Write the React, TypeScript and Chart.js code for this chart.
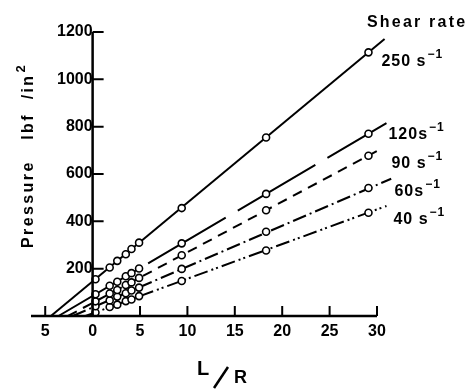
import React, { useEffect, useRef } from 'react';
import { Chart, registerables } from 'chart.js';
Chart.register(...registerables);

// ---- data ----
const shearRates = ['250', '120', '90', '60', '40'];
const lOverR = [0.3, 1.8, 2.6, 3.5, 4.1, 4.9, 9.4, 18.3, 29.1];
const p250 = [155, 205, 233, 261, 283, 310, 456, 754, 1114];
const p120 = [92, 128, 145, 168, 181, 201, 307, 516, 770];
const p90 = [62, 95, 110, 131, 142, 161, 257, 447, 677];
const p60 = [41, 66, 82, 96, 108, 120, 199, 356, 541];
const p40 = [15, 38, 48, 63, 70, 84, 148, 277, 436];
const pressures = [p250, p120, p90, p60, p40];
// fitted straight lines (Bagley extrapolation), start/end L/R and pressure
const fitStartX = [-4.4, -3.6, -2.6, -2.1, -0.75];
const fitEndX = [30.8, 31.0, 30.2, 31.5, 31.0];
const fitEndY = [1170, 815, 701, 580, 465];
const xTicks = [-5, 0, 5, 10, 15, 20, 25, 30];
const yTicks = [200, 400, 600, 800, 1000, 1200];

const dashes: number[][] = [[], [90, 14], [10, 7], [14, 4, 2, 4], [14, 4, 2, 3, 2, 4]];
const labelOffsets = [[13, 14], [20, 5], [23, 12], [26, 8], [25, 11]];
const labelSep = [' ', '', ' ', '', ' '];

const FONT = '"Liberation Sans", Arial, sans-serif';

const decor = {
  id: 'decor',
  afterDraw(chart: any) {
    const { ctx, scales } = chart;
    const x = scales.x, y = scales.y;
    const x0 = x.getPixelForValue(0);
    const y0 = y.getPixelForValue(0);
    ctx.save();
    ctx.strokeStyle = '#000';
    ctx.fillStyle = '#000';
    ctx.lineCap = 'butt';
    // axes
    ctx.lineWidth = 2.5;
    ctx.beginPath();
    ctx.moveTo(x.left, y0);
    ctx.lineTo(x.right, y0);
    ctx.moveTo(x0, y.getPixelForValue(1200));
    ctx.lineTo(x0, y0);
    ctx.stroke();
    // tick marks
    ctx.lineWidth = 2;
    ctx.beginPath();
    yTicks.forEach(v => {
      const py = y.getPixelForValue(v);
      ctx.moveTo(x0, py);
      ctx.lineTo(x0 + 11, py);
    });
    xTicks.forEach(v => {
      if (v === 0) return;
      const px = x.getPixelForValue(v);
      ctx.moveTo(px, y0);
      ctx.lineTo(px, y0 - 10);
    });
    ctx.stroke();

    // series labels
    (ctx as any).letterSpacing = '1px';
    ctx.textBaseline = 'alphabetic';
    ctx.textAlign = 'left';
    shearRates.forEach((r, i) => {
      const n = lOverR.length - 1;
      const px = x.getPixelForValue(lOverR[n]) + labelOffsets[i][0];
      const py = y.getPixelForValue(pressures[i][n]) + labelOffsets[i][1];
      ctx.font = `bold 16px ${FONT}`;
      const main = r + labelSep[i] + 's';
      ctx.fillText(main, px, py);
      const w = ctx.measureText(main).width;
      ctx.font = `bold 12px ${FONT}`;
      ctx.fillText('\u22121', px + w + 1, py - 8);
    });

    // header
    (ctx as any).letterSpacing = '2.2px';
    ctx.font = `bold 16px ${FONT}`;
    ctx.fillText('Shear rate', 367, 27);

    // y title
    ctx.save();
    ctx.translate(33, 248);
    ctx.rotate(-Math.PI / 2);
    (ctx as any).letterSpacing = '2.4px';
    ctx.font = `bold 16px ${FONT}`;
    const yt = 'Pressure   lbf  /in';
    ctx.fillText(yt, 0, 0);
    const yw = ctx.measureText(yt).width;
    ctx.font = `bold 13px ${FONT}`;
    ctx.fillText('2', yw + 1, -8);
    ctx.restore();

    // x title  L/R
    (ctx as any).letterSpacing = '0px';
    ctx.font = `bold 20px ${FONT}`;
    ctx.fillText('L', 197, 375);
    ctx.font = `bold 18px ${FONT}`;
    ctx.fillText('R', 234, 383);
    ctx.lineWidth = 2.5;
    ctx.beginPath();
    ctx.moveTo(214, 388);
    ctx.lineTo(228, 367);
    ctx.stroke();
    ctx.restore();
  },
};

export default function App() {
  const ref = useRef<HTMLCanvasElement | null>(null);
  useEffect(() => {
    document.body.style.margin = '0';
    const canvas = ref.current;
    if (!canvas) return;
    const pointSets = pressures.map((ps) => ({
      data: lOverR.map((lx, j) => ({ x: lx, y: ps[j] })),
      showLine: false,
      pointRadius: 3.5,
      pointBorderWidth: 1.6,
      pointBorderColor: '#000',
      pointBackgroundColor: '#fff',
      clip: false as any,
    }));
    const lineSets = pressures.map((_, i) => ({
      data: [
        { x: fitStartX[i], y: 0 },
        { x: fitEndX[i], y: fitEndY[i] },
      ],
      showLine: true,
      borderColor: '#000',
      borderWidth: 2,
      borderDash: dashes[i],
      pointRadius: 0,
      clip: false as any,
    }));
    const chart = new Chart(canvas, {
      type: 'scatter',
      data: { datasets: [...pointSets, ...lineSets] as any },
      options: {
        animation: false,
        responsive: false,
        devicePixelRatio: 1,
        layout: { padding: { left: 31, right: 96, top: 32, bottom: 0 } },
        plugins: { legend: { display: false }, tooltip: { enabled: false } },
        scales: {
          x: {
            type: 'linear',
            min: -6.5,
            max: 30,
            position: 'bottom',
            grid: { display: false, drawTicks: false },
            border: { display: false },
            afterBuildTicks: (s: any) => { s.ticks = xTicks.map(v => ({ value: v })); },
            afterFit: (s: any) => { s.height = 73; },
            ticks: {
              padding: 6,
              color: '#000',
              font: { family: FONT, size: 16, weight: 'bold' },
              callback: (v: any) => String(Math.abs(Number(v))),
              maxRotation: 0,
              autoSkip: false,
            },
          },
          y: {
            type: 'linear',
            min: 0,
            max: 1200,
            position: { x: 0 } as any,
            grid: { display: false, drawTicks: false },
            border: { display: false },
            afterBuildTicks: (s: any) => { s.ticks = yTicks.map(v => ({ value: v })); },
            ticks: {
              padding: 8,
              color: '#000',
              font: { family: FONT, size: 16, weight: 'bold' },
              callback: (v: any) => String(v),
              autoSkip: false,
            },
          },
        },
      },
      plugins: [decor],
    });
    return () => chart.destroy();
  }, []);
  return (
    <div style={{ width: 473, height: 389, background: '#fff' }}>
      <canvas ref={ref} width={473} height={389} />
    </div>
  );
}
